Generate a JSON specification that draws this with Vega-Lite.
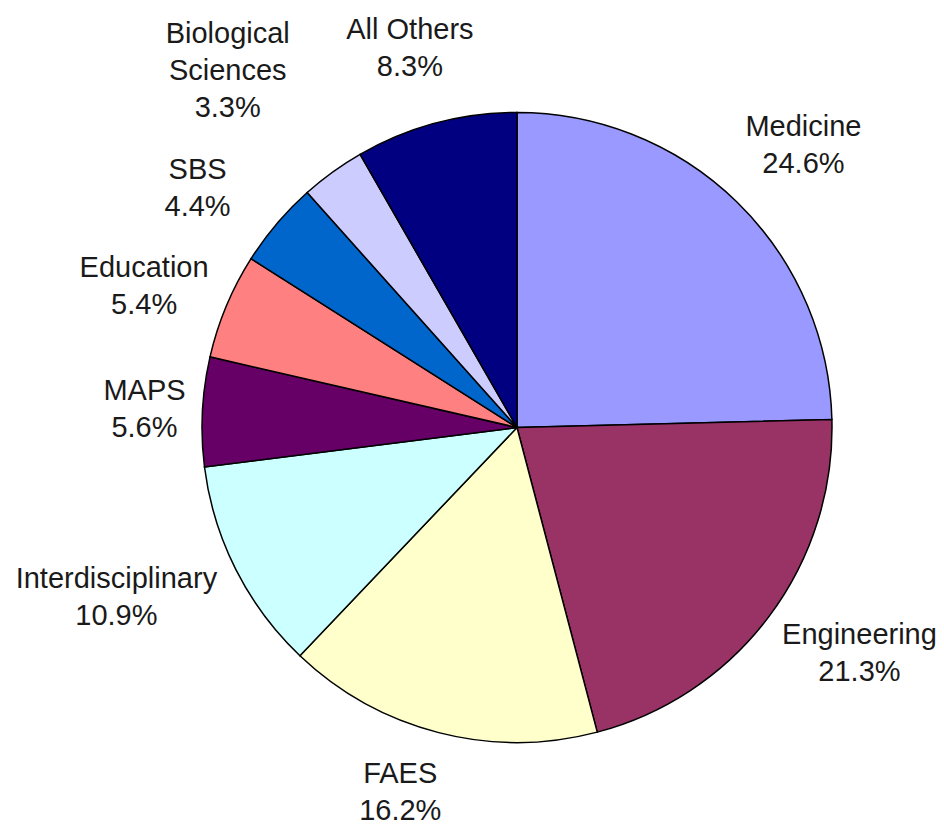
{
  "$schema": "https://vega.github.io/schema/vega-lite/v6.json",
  "width": 854,
  "height": 795,
  "autosize": {"type": "none"},
  "padding": {"left": 90, "top": 30, "right": 0, "bottom": 0},
  "background": "white",
  "view": {"stroke": null},
  "config": {
    "text": {"font": "Liberation Sans", "fontSize": 29, "lineHeight": 37, "lineBreak": "\n", "align": "center", "baseline": "middle", "fill": "#1a1a1a"}
  },
  "data": {
    "values": [
      {"order": 1, "category": "Medicine", "value": 24.6},
      {"order": 2, "category": "Engineering", "value": 21.3},
      {"order": 3, "category": "FAES", "value": 16.2},
      {"order": 4, "category": "Interdisciplinary", "value": 10.9},
      {"order": 5, "category": "MAPS", "value": 5.6},
      {"order": 6, "category": "Education", "value": 5.4},
      {"order": 7, "category": "SBS", "value": 4.4},
      {"order": 8, "category": "Biological\nSciences", "value": 3.3},
      {"order": 9, "category": "All Others", "value": 8.3}
    ]
  },
  "transform": [
    {"stack": "value", "groupby": [], "sort": [{"field": "order", "order": "ascending"}], "as": ["v0", "v1"]},
    {"calculate": "(datum.v0 + datum.v1) / 2", "as": "mid"},
    {"calculate": "datum.category + '\\n' + format(datum.value, '.1f') + '%'", "as": "label"}
  ],
  "layer": [
    {
      "mark": {"type": "arc", "outerRadius": 315, "stroke": "#000000", "strokeWidth": 1.5},
      "encoding": {
        "theta": {"field": "v0", "type": "quantitative", "scale": {"domain": [0, 100]}},
        "theta2": {"field": "v1"},
        "color": {
          "field": "category",
          "type": "nominal",
          "legend": null,
          "scale": {
            "domain": ["Medicine", "Engineering", "FAES", "Interdisciplinary", "MAPS", "Education", "SBS", "Biological\nSciences", "All Others"],
            "range": ["#9999FF", "#993366", "#FFFFCC", "#CCFFFF", "#660066", "#FF8080", "#0066CC", "#CCCCFF", "#000080"]
          }
        }
      }
    },
    {
      "transform": [{"filter": {"field": "category", "equal": "Medicine"}}],
      "mark": {"type": "text", "radius": 396, "dx": 10, "dy": -17},
      "encoding": {"theta": {"field": "mid", "type": "quantitative"}, "text": {"field": "label", "type": "nominal"}}
    },
    {
      "transform": [{"filter": {"field": "category", "equal": "Engineering"}}],
      "mark": {"type": "text", "radius": 422, "dx": 5, "dy": -46},
      "encoding": {"theta": {"field": "mid", "type": "quantitative"}, "text": {"field": "label", "type": "nominal"}}
    },
    {
      "transform": [{"filter": {"field": "category", "equal": "FAES"}}],
      "mark": {"type": "text", "radius": 377, "dx": -23, "dy": -18.5},
      "encoding": {"theta": {"field": "mid", "type": "quantitative"}, "text": {"field": "label", "type": "nominal"}}
    },
    {
      "transform": [{"filter": {"field": "category", "equal": "Interdisciplinary"}}],
      "mark": {"type": "text", "radius": 422, "dx": -24, "dy": -38.5},
      "encoding": {"theta": {"field": "mid", "type": "quantitative"}, "text": {"field": "label", "type": "nominal"}}
    },
    {
      "transform": [{"filter": {"field": "category", "equal": "MAPS"}}],
      "mark": {"type": "text", "radius": 377, "dx": 4, "dy": -17.5},
      "encoding": {"theta": {"field": "mid", "type": "quantitative"}, "text": {"field": "label", "type": "nominal"}}
    },
    {
      "transform": [{"filter": {"field": "category", "equal": "Education"}}],
      "mark": {"type": "text", "radius": 396, "dx": -7.5, "dy": -7},
      "encoding": {"theta": {"field": "mid", "type": "quantitative"}, "text": {"field": "label", "type": "nominal"}}
    },
    {
      "transform": [{"filter": {"field": "category", "equal": "SBS"}}],
      "mark": {"type": "text", "radius": 396, "dx": -17.5, "dy": -1},
      "encoding": {"theta": {"field": "mid", "type": "quantitative"}, "text": {"field": "label", "type": "nominal"}}
    },
    {
      "transform": [{"filter": {"field": "category", "equal": "Biological\nSciences"}}],
      "mark": {"type": "text", "radius": 455, "dx": -23, "dy": -25},
      "encoding": {"theta": {"field": "mid", "type": "quantitative"}, "text": {"field": "label", "type": "nominal"}}
    },
    {
      "transform": [{"filter": {"field": "category", "equal": "All Others"}}],
      "mark": {"type": "text", "radius": 396, "dx": -5, "dy": -15},
      "encoding": {"theta": {"field": "mid", "type": "quantitative"}, "text": {"field": "label", "type": "nominal"}}
    }
  ]
}
